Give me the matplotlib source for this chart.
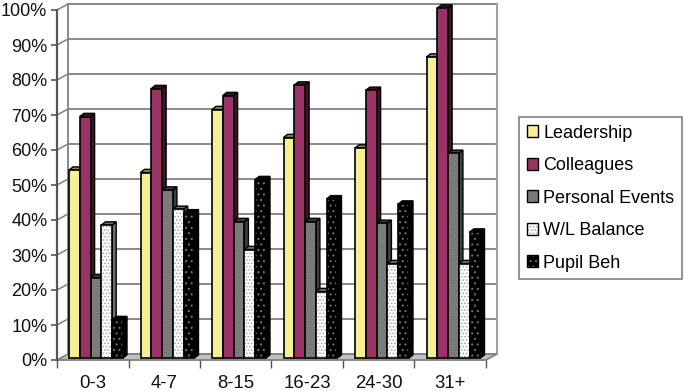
import numpy as np
import matplotlib
matplotlib.use('Agg')
import matplotlib.pyplot as plt
from matplotlib.patches import Polygon, Patch
from matplotlib.legend_handler import HandlerTuple

plt.rcParams['font.family'] = ['Liberation Sans', 'DejaVu Sans']
plt.rcParams['hatch.linewidth'] = 0.8

groups = ['0-3', '4-7', '8-15', '16-23', '24-30', '31+']
series = ['Leadership', 'Colleagues', 'Personal Events', 'W/L Balance', 'Pupil Beh']

leadership = [53.7, 53, 71, 63, 60, 86]
colleagues = [69, 77, 75, 78, 76.5, 100]
personal = [23, 48, 39, 39, 38.5, 58.5]
balance = [38, 42.5, 31, 19, 27, 27]
pupil = [11, 41.5, 51, 45.5, 44, 36]
values = [leadership, colleagues, personal, balance, pupil]

ticks = list(range(0, 101, 10))

# face, dark side, hatch colour, hatch
styles = [
    ('#F5F093', '#8f8b50', None, None),
    ('#993366', '#3d1428', None, None),
    ('#808080', '#404040', '#6e6e6e', '......'),
    ('#FFFFFF', '#707070', '#a8a8a8', '.....'),
    ('#000000', '#000000', '#707070', '...'),
]

# depth of the 3D look
dx = 0.154
dy = 1.71
bar_w = 0.151
bar_dx = 0.056
bar_dy = 0.9
base = 0.57
start = 0.168

fig = plt.figure(figsize=(6.85, 3.91), dpi=100)
ax = fig.add_axes([57 / 685, 31 / 391, 429 / 685, 350 / 391])
ax.set_xlim(0, 6)
ax.set_ylim(0, 100)
ax.patch.set_alpha(0)

# floor and walls
floor = [(0, 0), (6, 0), (6 + dx, dy), (dx, dy)]
ax.add_patch(Polygon(floor, closed=True, fc='#C0C0C0', ec='#A0A0A0', lw=1, clip_on=False, zorder=1))
for t in ticks:
    ax.plot([dx, 6 + dx], [t + dy, t + dy], color='#808080', lw=1.3, clip_on=False, zorder=1)
    ax.plot([0, dx], [t, t + dy], color='#808080', lw=1.1, clip_on=False, zorder=1)
ax.plot([dx, dx], [dy, 100 + dy], color='#808080', lw=1.3, clip_on=False, zorder=1)
ax.plot([6 + dx, 6 + dx], [dy, 100 + dy], color='#A0A0A0', lw=1.5, clip_on=False, zorder=1)
ax.plot([6, 6 + dx], [0, dy], color='#808080', lw=1, clip_on=False, zorder=1)

# bars, left to right so each one covers the side of the last
z = 2
for i in range(len(groups)):
    for j in range(len(series)):
        v = values[j][i]
        face, dark, hcol, hatch = styles[j]
        x0 = i + start + j * bar_w
        x1 = x0 + bar_w
        top = base + v
        side = [(x1, base), (x1 + bar_dx, base + bar_dy), (x1 + bar_dx, top + bar_dy), (x1, top)]
        ax.add_patch(Polygon(side, closed=True, fc=dark, ec='black', lw=1, clip_on=False, zorder=z))
        roof = [(x0, top), (x1, top), (x1 + bar_dx, top + bar_dy), (x0 + bar_dx, top + bar_dy)]
        ax.add_patch(Polygon(roof, closed=True, fc=dark, ec='black', lw=1, clip_on=False, zorder=z))
        ax.bar(x0, v, bar_w, bottom=base, align='edge', color=face,
               edgecolor=hcol if hatch else 'none', hatch=hatch, linewidth=0, clip_on=False, zorder=z + 0.1)
        ax.bar(x0, v, bar_w, bottom=base, align='edge', fill=False,
               edgecolor='black', linewidth=1.2, clip_on=False, zorder=z + 0.2)
        z += 1

for s in ['top', 'right']:
    ax.spines[s].set_visible(False)
ax.spines['left'].set_color('#555555')
ax.spines['left'].set_linewidth(1.6)
ax.spines['bottom'].set_color('#808080')
ax.spines['bottom'].set_linewidth(1.2)
ax.spines['bottom'].set_zorder(1.5)

ax.set_yticks(ticks)
ax.set_yticklabels([str(t) + '%' for t in ticks], fontsize=13, color='#111111')
ax.set_xticks(range(7))
ax.set_xticklabels([])
ax.set_xticks(np.arange(6) + 0.5, minor=True)
ax.set_xticklabels(groups, minor=True, fontsize=13.4, color='#111111')
ax.tick_params(axis='y', length=4, width=1.2, color='#555555', pad=3)
ax.tick_params(axis='x', which='major', length=6, width=1, color='#555555')
ax.tick_params(axis='x', which='minor', length=0, pad=11)

# hatch takes the edge colour, so the black outline goes on as a second patch
handles = []
for j in range(len(series)):
    face, dark, hcol, hatch = styles[j]
    fill = Patch(facecolor=face, edgecolor=hcol if hatch else 'none', hatch=hatch, linewidth=0)
    outline = Patch(fill=False, edgecolor='black', linewidth=1)
    handles.append((fill, outline))
leg = fig.legend(handles, series, loc='upper left', bbox_to_anchor=(519 / 685, 1 - 117 / 391),
                 handler_map={tuple: HandlerTuple(ndivide=1, pad=0)},
                 fontsize=13, frameon=True, fancybox=False, edgecolor='#808080', framealpha=1,
                 handlelength=0.62, handleheight=0.62, handletextpad=0.3,
                 labelspacing=0.86, borderaxespad=0, borderpad=0.42)
leg.get_frame().set_linewidth(1.2)

fig.savefig('out.png', dpi=100)
